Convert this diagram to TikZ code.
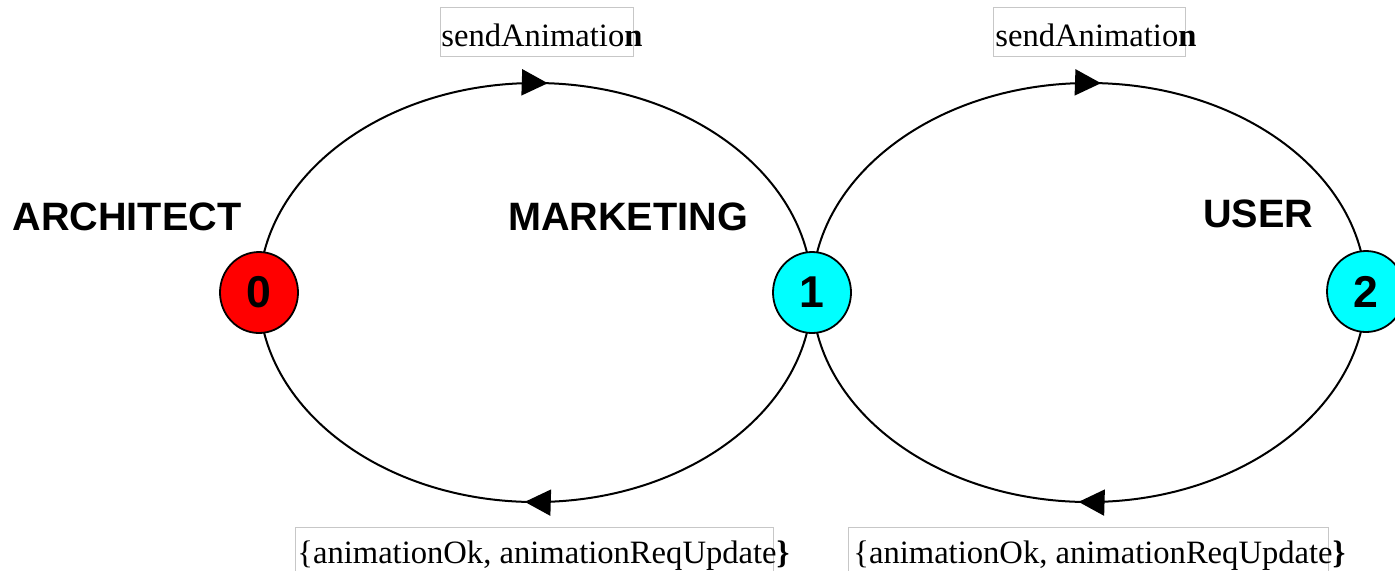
\documentclass[tikz,border=0pt]{standalone}
\usepackage{fontspec}
\setmainfont{Liberation Serif}
\newfontfamily\headfont{Liberation Sans}
\usetikzlibrary{arrows.meta,decorations.markings,backgrounds,shapes.geometric}
\definecolor{aqua}{RGB}{0,255,255}
\definecolor{pure red}{RGB}{255,0,0}

\begin{document}
\begin{tikzpicture}[x=0.5pt,y=-0.5pt,
  state/.style={ellipse, draw=black, line width=0.9pt, minimum width=39pt,
    minimum height=40.5pt, inner sep=0pt,
    font=\headfont\bfseries\fontsize{22.3}{22.3}\selectfont},
  role/.style={font=\headfont\bfseries\fontsize{19.8}{19.8}\selectfont, inner sep=0pt},
  msg/.style={font=\fontsize{16.3}{16.3}\selectfont, inner sep=0pt, anchor=base west},
  msgbox/.style={draw=black!22, line width=0.5pt},
  flow/.style={line width=1pt,
    decoration={markings, mark=at position #1 with
      {\arrow{Triangle[length=13pt,width=13pt]}}},
    postaction={decorate}}
]
\useasboundingbox (0,0) rectangle (1395,570);
\clip (0,0) rectangle (1395,570);

% states
\node[state, fill=pure red] (n0) at (259,292.5) {0};
\node[state, fill=aqua]     (n1) at (812,292.5) {1};
\node[state, fill=aqua]     (n2) at (1366,291.5) {2};

% turning points of the two loops
\coordinate (t1) at (535.5,83);
\coordinate (b1) at (535.5,502);
\coordinate (t2) at (1089,83);
\coordinate (b2) at (1089,502);

% loops behind the states
\begin{scope}[on background layer]
  \draw[flow=0.516] (n0.center) .. controls +(0,-115.7) and +(-152.4,0) .. (t1)
                                .. controls +(152.4,0) and +(0,-115.7) .. (n1.center);
  \draw[flow=0.514] (n1.center) .. controls +(0,115.7) and +(152.4,0) .. (b1)
                                .. controls +(-152.4,0) and +(0,115.7) .. (n0.center);
  \draw[flow=0.516] (n1.center) .. controls +(0,-115.7) and +(-152.7,0) .. (t2)
                                .. controls +(152.7,0) and +(0,-115.7) .. (n2.center);
  \draw[flow=0.514] (n2.center) .. controls +(0,115.7) and +(152.7,0) .. (b2)
                                .. controls +(-152.7,0) and +(0,115.7) .. (n1.center);
\end{scope}

% roles
\node[role] (rA) at (127,217) {ARCHITECT};
\node[role] (rM) at (628,217) {MARKETING};
\node[role] (rU) at (1258,214) {USER};

% message label frames
\draw[msgbox] (440,7) rectangle (633,56);
\draw[msgbox] (993,7) rectangle (1185,56);
\draw[msgbox] (295,527) rectangle (773,590);
\draw[msgbox] (848,527) rectangle (1328,590);

% message labels
\node[msg] (m1) at (441,46.5) {sendAnimatio\textbf{n}};
\node[msg] (m2) at (995,46.5) {sendAnimatio\textbf{n}};
\node[msg] (m3) at (297,563) {\{animationOk, animationReqUpdate\textbf{\}}};
\node[msg] (m4) at (853,563) {\{animationOk, animationReqUpdate\textbf{\}}};
\end{tikzpicture}
\end{document}
